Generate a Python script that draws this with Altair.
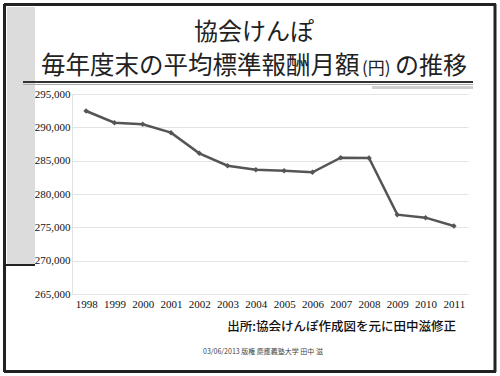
import altair as alt
import pandas as pd

years = ["1998", "1999", "2000", "2001", "2002", "2003", "2004", "2005",
         "2006", "2007", "2008", "2009", "2010", "2011"]
values = [292450, 290700, 290450, 289200, 286100, 284250, 283650, 283500,
          283250, 285450, 285400, 276900, 276450, 275200]
y_ticks = [265000, 270000, 275000, 280000, 285000, 290000, 295000]

title1 = "協会けんぽ"
title2a = "毎年度末の平均標準報酬月額"
title2b = "(円)"
title2c = "の推移"
source_text = "出所:協会けんぽ作成図を元に田中滋修正"
copyright_text = "03/06/2013 版権  慶應義塾大学 田中 滋"

df = pd.DataFrame({"year": years, "value": values})
one = pd.DataFrame({"k": [0]})

PL, PT = 72, 94  # plot origin in page coordinates

def px(x):
    return alt.value(x - PL)

def py(y):
    return alt.value(y - PT)

serif = "Liberation Serif"

x_enc = alt.X("year:O", title=None, sort=years,
              axis=alt.Axis(labelAngle=0, labelFont=serif, labelFontSize=11,
                            labelColor="#111", domain=False, ticks=False, labelPadding=4))
y_enc = alt.Y("value:Q", title=None,
              scale=alt.Scale(domain=[265000, 295000], nice=False, zero=False),
              axis=alt.Axis(values=y_ticks, format=",d", labelFont=serif,
                            labelFontSize=11, labelColor="#111", domain=True,
                            domainColor="#e2e2e2", ticks=False, labelPadding=2,
                            gridColor="#e4e4e4", gridWidth=1))

line = alt.Chart(df).mark_line(color="#555555", strokeWidth=2.5).encode(x=x_enc, y=y_enc)
pts = alt.Chart(df).mark_point(shape="diamond", filled=True, size=30, color="#555555",
                               opacity=1).encode(x=x_enc, y=y_enc)

# decorations
band = alt.Chart(one).mark_rect(color="#dcdcdc").encode(
    x=px(7), x2=px(35), y=py(7), y2=py(265))
band_rule = alt.Chart(one).mark_rule(color="#222", strokeWidth=2).encode(
    x=px(4), x2=px(35), y=py(265))

def hrule(x1, x2, y, color="#333333", w=2.5):
    return alt.Chart(one).mark_rule(color=color, strokeWidth=w).encode(
        x=px(x1), x2=px(x2), y=py(y))

def vrule(x, y1, y2, color="#333333", w=2.5):
    return alt.Chart(one).mark_rule(color=color, strokeWidth=w).encode(
        x=px(x), y=py(y1), y2=py(y2))

frame = [hrule(4, 496, 4.5, "#222222", 3), hrule(4, 496, 371.5, "#222222", 3),
         vrule(4.5, 4, 372, "#222222", 3), vrule(495, 4, 372, "#222222", 3)]

title_rule = hrule(23, 473, 82, "#333333", 2)
title_rule2 = hrule(23, 473, 84.5, "#aaaaaa", 1)
hatch = alt.Chart(one).mark_rect(color="#d0d0d0").encode(
    x=px(372), x2=px(473), y=py(86), y2=py(89))

cjk = "Noto Sans CJK JP"
t1 = alt.Chart(one).mark_text(text=title1, font=cjk, fontSize=24, color="#222",
                              align="center", baseline="middle").encode(x=px(254), y=py(33))
t2a = alt.Chart(one).mark_text(text=title2a, font=cjk, fontSize=24.5, color="#222",
                               align="left", baseline="middle").encode(x=px(41), y=py(67))
t2b = alt.Chart(one).mark_text(text=title2b, font=cjk, fontSize=17, color="#222",
                               align="left", baseline="middle").encode(x=px(362), y=py(69))
t2c = alt.Chart(one).mark_text(text=title2c, font=cjk, fontSize=24, color="#222",
                               align="left", baseline="middle").encode(x=px(395), y=py(67))
src = alt.Chart(one).mark_text(text=source_text, font=cjk, fontSize=12.5, color="#111",
                               fontWeight=500, align="right", baseline="middle").encode(
    x=px(456), y=py(327))
cp = alt.Chart(one).mark_text(text=copyright_text, font=cjk, fontSize=7, color="#444",
                              align="center", baseline="middle").encode(x=px(263), y=py(352))

chart = alt.layer(
    band, band_rule, *frame, title_rule, title_rule2, hatch,
    line, pts, t1, t2a, t2b, t2c, src, cp
).properties(
    width=396, height=200,
    autosize=alt.AutoSizeParams(type="none"),
    padding={"left": PL, "top": PT, "right": 500 - PL - 396, "bottom": 376 - PT - 200},
    background="#ffffff"
).configure_view(stroke=None)

chart.save("out.html", embed_options={"renderer": "svg", "actions": False})
